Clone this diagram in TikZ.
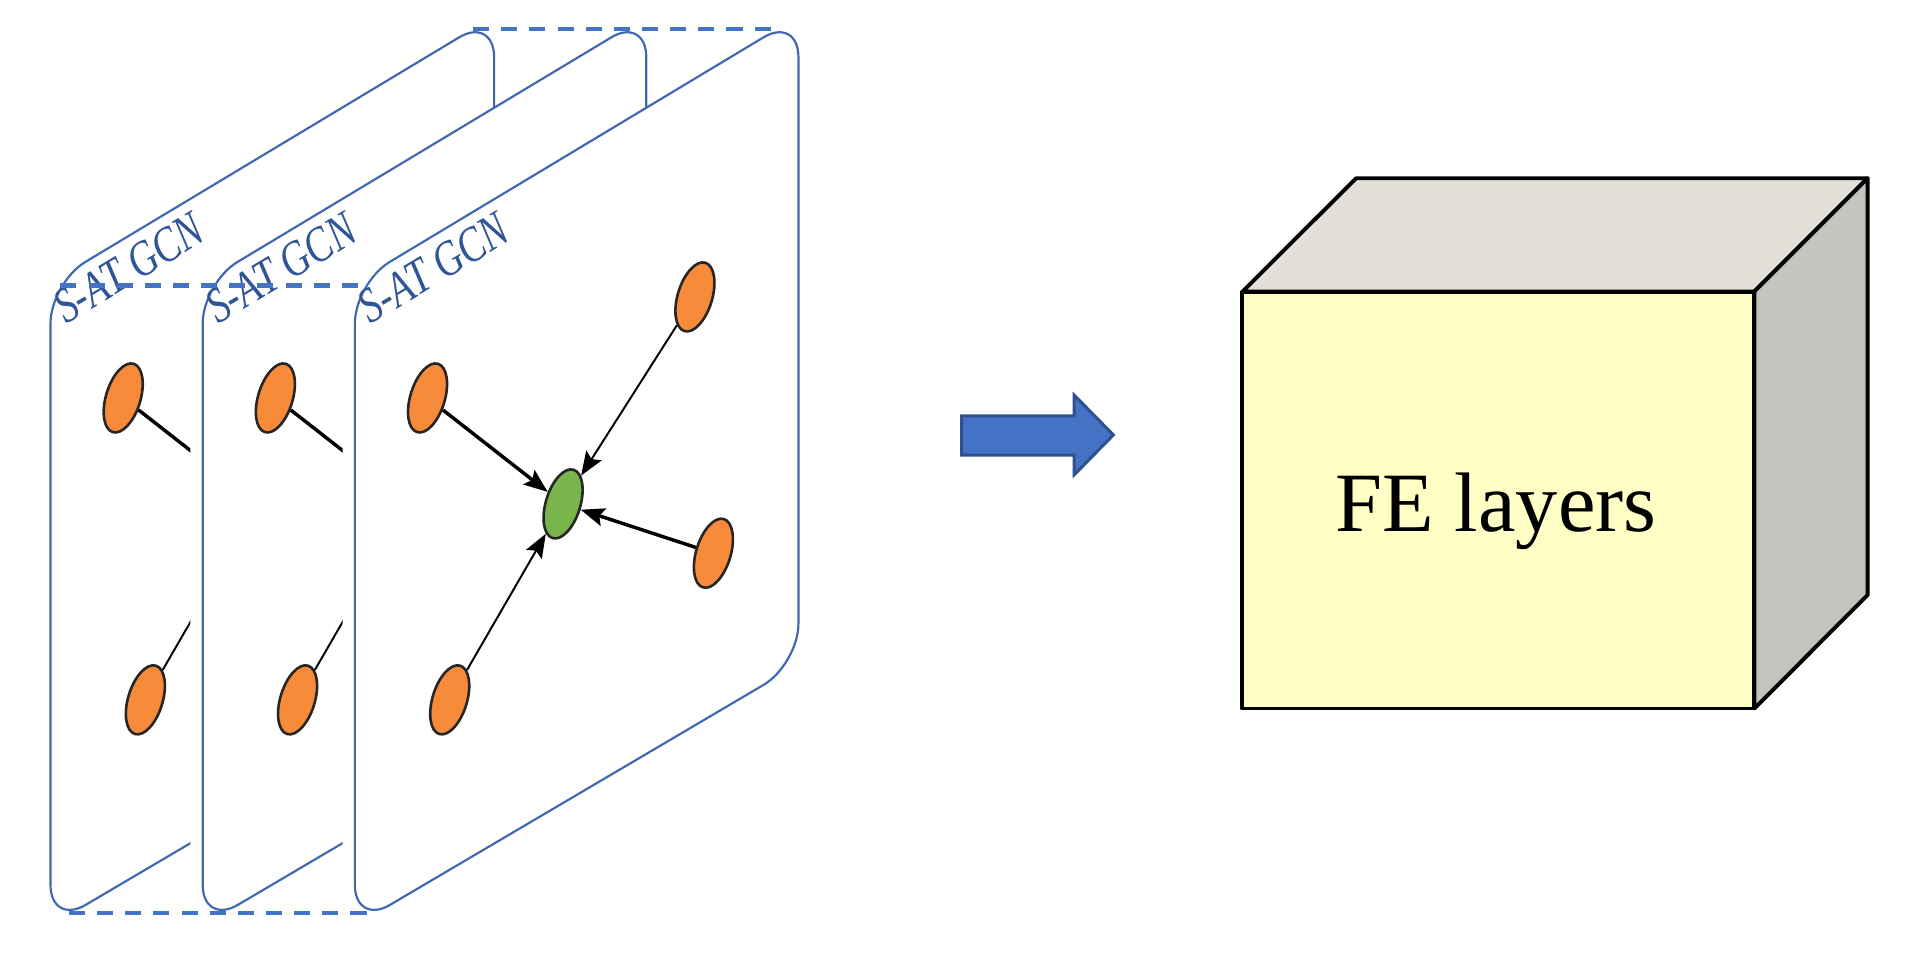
\documentclass[tikz,border=0pt]{standalone}
\usepackage{fontspec}
\setmainfont{Liberation Serif}
\usetikzlibrary{shapes.geometric,arrows.meta}

\definecolor{panelblue}{HTML}{4068B2}
\definecolor{dashblue}{HTML}{4472C4}
\definecolor{labelblue}{HTML}{2F5597}
\definecolor{arrowedge}{HTML}{2F528F}
\definecolor{nodeorange}{HTML}{F88B3A}
\definecolor{nodegreen}{HTML}{78B64C}
\definecolor{cubefront}{HTML}{FFFFC5}
\definecolor{cubetop}{HTML}{E2E0D8}
\definecolor{cubeside}{HTML}{C4C4BE}

\tikzset{
	panel/.style={draw=panelblue, line width=0.5pt, fill=white, rounded corners=3.3mm},
	gapline/.style={draw=white, line width=2mm, rounded corners=3.3mm},
	guide/.style={draw=dashblue, line width=1.1pt, dash pattern=on 3.7pt off 2.8pt},
	vert/.style={ellipse, draw=black!85, line width=0.6pt, minimum width=2.8mm,
		minimum height=5.8mm, inner sep=0pt, rotate=-17},
	nbr/.style={vert, fill=nodeorange},
	ctr/.style={vert, fill=nodegreen},
	heavy/.style={line width=0.8pt, -{Stealth[length=5.5pt, width=4.2pt, inset=1pt]}},
	light/.style={line width=0.45pt, -{Stealth[length=5.5pt, width=4.2pt, inset=1pt]}},
	gcnlabel/.style={text=labelblue, font=\fontsize{11.5}{13}\selectfont,
		inner sep=0pt, rotate=31, anchor=base west},
	face/.style={draw=black, line width=0.9pt, line join=round}
}

\begin{document}
\begin{tikzpicture}[x=0.1mm, y=-0.1mm]
	\useasboundingbox (0,0) rectangle (1568,774);

	% three S-AT GCN panels, back to front
	\foreach \i/\dx in {1/-247, 2/-123.5, 3/0} {
		\begin{scope}[shift={(\dx,0)}]
			\ifnum\i>1
				\draw [gapline] (340,720.6) -- (288,751.2) -- (288,229.6) -- (340,198.4);
			\fi
			\draw [panel] (288,229.6) -- (648,13.3) -- (648,539.2) -- (288,751.2) -- cycle;

			\node [gcnlabel] (lab\i) at (300,264) {\scalebox{0.78}[1]{\textit{S-AT GCN}}};

			\node [nbr] (tl\i) at (347,323) {};
			\node [nbr] (tr\i) at (564,241) {};
			\node [nbr] (rt\i) at (579,449) {};
			\node [nbr] (bl\i) at (365,568) {};
			\node [ctr] (c\i) at (457,409) {};

			\draw [heavy] (tl\i) -- (c\i);
			\draw [light] (tr\i) -- (c\i);
			\draw [heavy] (rt\i) -- (c\i);
			\draw [light] (bl\i) -- (c\i);
		\end{scope}
	}

	\draw [guide] (384,23.5) -- (627,23.5);
	\draw [guide] (49,232) -- (291,232);
	\draw [guide] (56,741) -- (298,741);

	% block arrow
	\draw [fill=dashblue, draw=arrowedge, line width=0.7pt]
		(780.5,337.6) -- (871.7,337.6) -- (871.7,320.6) -- (903.6,353)
		-- (871.7,385.5) -- (871.7,369.3) -- (780.5,369.3) -- cycle;

	% FE cube
	\coordinate (ftl) at (1008.3,236.7);
	\coordinate (ftr) at (1423.8,236.7);
	\coordinate (fbr) at (1423.8,575);
	\coordinate (fbl) at (1008.3,575);
	\coordinate (btl) at (1100.6,144.7);
	\coordinate (btr) at (1515.8,144.7);
	\coordinate (bbr) at (1515.8,482.9);

	\draw [face, fill=cubetop] (ftl) -- (btl) -- (btr) -- (ftr) -- cycle;
	\draw [face, fill=cubeside] (ftr) -- (btr) -- (bbr) -- (fbr) -- cycle;
	\draw [face, fill=cubefront] (ftl) rectangle (fbr);

	\node [font=\fontsize{19.5}{23}\selectfont, inner sep=0pt, anchor=base]
		(fe) at (1214,431.5) {FE layers};
\end{tikzpicture}
\end{document}
